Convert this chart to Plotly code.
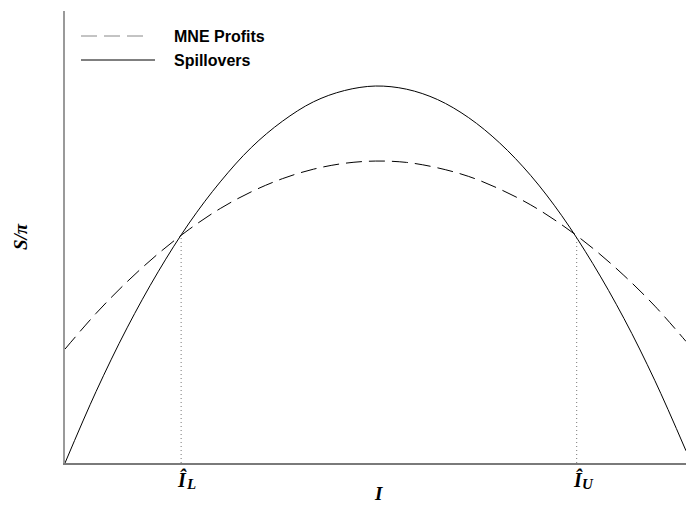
import plotly.graph_objects as go

# values (abstract units, axis 0..10)
x_vals = [0, 0.5, 1, 1.5, 2, 2.5, 3, 3.5, 4, 4.5, 5, 5.5, 6, 6.5, 7, 7.5, 8, 8.5, 9, 9.5, 10]
spillovers = [0.0, 1.58, 2.99, 4.23, 5.31, 6.22, 6.98, 7.56, 7.99, 8.24, 8.34, 8.27, 8.04, 7.64,
              7.08, 6.36, 5.47, 4.41, 3.20, 1.82, 0.27]
mne_profits = [2.52, 3.31, 4.01, 4.63, 5.17, 5.63, 6.00, 6.29, 6.50, 6.63, 6.68, 6.65, 6.53, 6.34,
               6.06, 5.71, 5.27, 4.75, 4.15, 3.47, 2.69]
cross_x = [1.87, 8.24]
cross_y = [5.04, 5.04]
cross_main = ["Î", "Î"]
cross_sub = ["L", "U"]
legend_names = ["MNE Profits", "Spillovers"]

fig = go.Figure()
fig.add_trace(go.Scatter(x=x_vals, y=mne_profits, mode="lines", name=legend_names[0],
                         line=dict(color="black", width=1, dash="16px,7px", shape="spline"),
                         showlegend=False))
fig.add_trace(go.Scatter(x=x_vals, y=spillovers, mode="lines", name=legend_names[1],
                         line=dict(color="black", width=1, shape="spline"),
                         showlegend=False))
for cx, cy in zip(cross_x, cross_y):
    fig.add_trace(go.Scatter(x=[cx, cx], y=[0, cy], mode="lines", showlegend=False,
                             line=dict(color="#777777", width=1, dash="1px,3px")))

serif = "Liberation Serif"
for cx, m, s in zip(cross_x, cross_main, cross_sub):
    fig.add_annotation(x=cx, y=0, xref="x", yref="y", text="<b><i>%s</i></b>" % m, showarrow=False,
                       xanchor="left", yanchor="top", xshift=-6, yshift=-3,
                       font=dict(family=serif, size=20, color="black"))
    fig.add_annotation(x=cx, y=0, xref="x", yref="y", text="<b><i>%s</i></b>" % s, showarrow=False,
                       xanchor="left", yanchor="top", xshift=3, yshift=-11,
                       font=dict(family=serif, size=15, color="black"))

W, H = 686, 518
L, T, B = 65, 11, 518 - 463
pw, ph = W - L, H - T - B
def px(xp):
    return (xp - L) / pw
def py(yp):
    return (463 - yp) / ph
fig.add_shape(type="line", xref="paper", yref="paper", x0=px(81), x1=px(148), y0=py(36), y1=py(36),
              line=dict(color="#888888", width=1, dash="16px,7px"))
fig.add_shape(type="line", xref="paper", yref="paper", x0=px(81), x1=px(155), y0=py(60), y1=py(60),
              line=dict(color="black", width=1))
for name, yy in zip(legend_names, [37, 60]):
    fig.add_annotation(x=px(172), y=py(yy), xref="paper", yref="paper", text="<b>%s</b>" % name,
                       showarrow=False, xanchor="left", yanchor="middle",
                       font=dict(family="Liberation Sans", size=16, color="black"))

fig.add_annotation(x=px(20), y=py(237), xref="paper", yref="paper", text="<b><i>S/π</i></b>",
                   showarrow=False, textangle=-90, xanchor="center", yanchor="middle",
                   font=dict(family=serif, size=19, color="black"))
fig.add_annotation(x=px(378), y=py(493), xref="paper", yref="paper", text="<b><i>I</i></b>",
                   showarrow=False, xanchor="center", yanchor="middle",
                   font=dict(family=serif, size=19, color="black"))

fig.update_xaxes(range=[0, 10], showgrid=False, zeroline=False, showticklabels=False,
                 showline=True, linecolor="#7a7a7a", linewidth=1.5, ticks="")
fig.update_yaxes(range=[0, 10], showgrid=False, zeroline=False, showticklabels=False,
                 showline=True, linecolor="#9a9a9a", linewidth=1.5, ticks="")
fig.update_layout(width=W, height=H, margin=dict(l=L, r=0, t=T, b=B),
                  paper_bgcolor="white", plot_bgcolor="white")
post = ("document.body.style.margin='0';document.body.style.padding='0';"
        "var gd=document.getElementById('{plot_id}');"
        "Plotly.relayout(gd,{width:686,height:518});")
fig.write_html("out.html", post_script=post, config={"responsive": False, "displayModeBar": False})
